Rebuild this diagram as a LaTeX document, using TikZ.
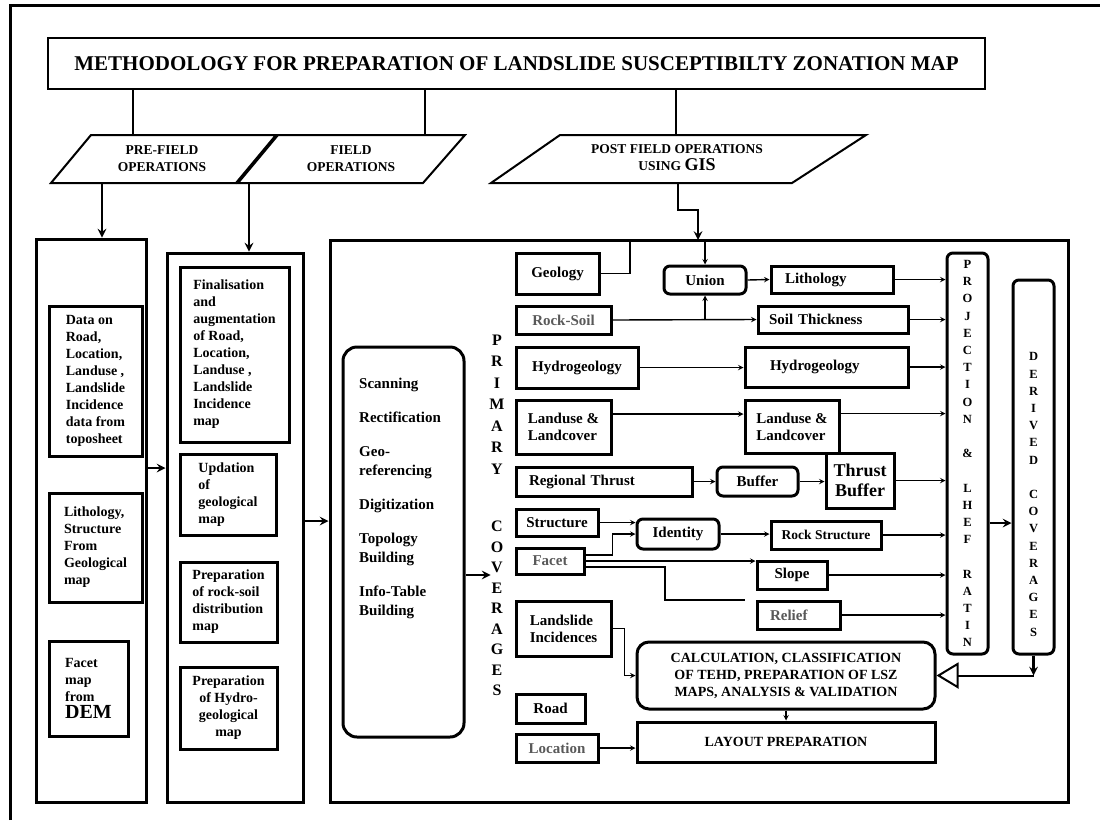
\documentclass[tikz,border=0pt]{standalone}
\usepackage{fontspec}
\setmainfont{Liberation Serif}
\usetikzlibrary{arrows.meta}

\begin{document}
\begin{tikzpicture}[x=1pt, y=-1pt,
    box/.style 2 args={draw, line width=3pt, minimum width=#1, minimum height=#2, inner sep=2pt, anchor=center, font=\bfseries\fontsize{15}{17}\selectfont},
    rbox/.style 2 args={box={#1}{#2}, rounded corners=6pt},
    cbox/.style 2 args={box={#1}{#2}, align=left, font=\bfseries\fontsize{14}{17}\selectfont},
    lbox/.style={align=left, text width=#1},
    ptext/.style={align=center, font=\bfseries\fontsize{13.5}{17}\selectfont},
    vtext/.style={align=center, inner sep=0pt, font=\bfseries\fontsize{12.5}{17.2}\selectfont},
    grey/.style={text=black!65},
    arr/.style={->, >=stealth, line width=1.4pt},
    thickarr/.style={->, >=stealth, line width=2.8pt}]

      \useasboundingbox (0,0) rectangle (1100,820);
      \draw [line width=3pt] (10,820) -- (10,5) -- (1100,5);

      \node[box={937}{51}, line width=2pt, font=\bfseries\fontsize{21}{24}\selectfont] (title) at (516.5,63.5) {METHODOLOGY FOR PREPARATION OF LANDSLIDE SUSCEPTIBILTY ZONATION MAP};

      \draw [line width=2pt] (91,135) -- (276,135) -- (236,183) -- (51,183) -- cycle;
      \draw [line width=2pt] (278,135) -- (465,135) -- (423,183) -- (238,183) -- cycle;
      \draw [line width=2pt] (560,135) -- (866,135) -- (792,183) -- (491,183) -- cycle;
      \node[ptext] (pre) at (162,159) {PRE-FIELD\\OPERATIONS};
      \node[ptext] (field) at (351,159) {FIELD\\OPERATIONS};
      \node[ptext] (post) at (677,158) {POST FIELD OPERATIONS\\USING {\fontsize{18}{18}\selectfont GIS}};

      \coordinate (pretop) at (133,135);
      \coordinate (fieldtop) at (425,135);
      \coordinate (posttop) at (676,135);
      \coordinate (prebot) at (102,183);
      \coordinate (fieldbot) at (249,183);
      \coordinate (postbot) at (678,183);
      \coordinate (gisin) at (698,240);

      \draw [line width=2pt] (title.south -| pretop) -- (pretop);
      \draw [line width=2pt] (title.south -| fieldtop) -- (fieldtop);
      \draw [line width=2pt] (title.south -| posttop) -- (posttop);

      \node[box={110}{563}] (col1) at (91,520.5) {};
      \node[cbox={93}{150}] (data) at (95.5,381) {Data on\\Road,\\Location,\\Landuse ,\\Landslide\\Incidence\\data from\\toposheet};
      \node[cbox={93}{109}] (lith) at (95.5,547.5) {Lithology,\\Structure\\From\\Geological\\map};
      \node[cbox={79}{95}] (facetmap) at (88.5,688.5) {Facet\\map\\from\\{\fontsize{20}{20}\selectfont DEM}};

      \node[box={136}{549}] (col2) at (235,527.5) {};
      \node[cbox={109}{175}] (final) at (234.5,354.5) {Finalisation\\ and\\augmentation\\of Road,\\Location,\\Landuse ,\\Landslide\\Incidence\\map};
      \node[cbox={96}{81}] (update) at (228,494.5) {Updation\\of\\geological\\map};
      \node[cbox={97}{80}] (rsprep) at (228.5,602) {Preparation\\of rock-soil\\distribution\\map};
      \node[cbox={97}{82}, align=center] (hyprep) at (228.5,708) {Preparation\\of Hydro-\\geological\\map};

      \node[box={738}{562}] (gis) at (699,521) {};
      \node[rbox={121}{390}, rounded corners=14pt] (process) at (403.5,542) {};
      \node[align=left, anchor=north west, inner sep=0pt, font=\bfseries\fontsize{15}{19}\selectfont] (steps) at (359,378) {Scanning\\[15pt]Rectification\\[15pt]Geo-\\referencing\\[15pt]Digitization\\[15pt]Topology\\Building\\[15pt]Info-Table\\Building};

      \node[vtext, font=\bfseries\fontsize{16}{21.5}\selectfont] (prim) at (497,404.5) {P\\R\\I\\M\\A\\R\\Y};
      \node[vtext, font=\bfseries\fontsize{16}{20.5}\selectfont] (cov) at (497,608.5) {C\\O\\V\\E\\R\\A\\G\\E\\S};

      \node[box={83}{41}] (geology) at (557.5,273.5) {Geology};
      \node[box={95}{28}, grey] (rocksoil) at (563.5,320) {Rock-Soil};
      \node[box={122}{41}] (hydrol) at (577,367.5) {Hydrogeology};
      \node[box={95}{54}, align=left] (landl) at (563.5,427) {Landuse \&\\Landcover};
      \node[box={176}{29}, lbox=150] (regthrust) at (604,481.5) {Regional Thrust};
      \node[box={82}{27}] (structure) at (557,522.5) {Structure};
      \node[box={68}{26}, grey] (facet) at (550,561) {Facet};
      \node[box={95}{55}, align=left] (landslide) at (563.5,628.5) {Landslide\\Incidences};
      \node[box={69}{29}] (road) at (550.5,708.5) {Road};
      \node[box={82}{28}, grey] (location) at (557,748) {Location};

      \node[rbox={82}{28}] (union) at (705,280) {Union};
      \node[box={122}{27}, lbox=94] (litho) at (832,279.5) {Lithology};
      \node[box={150}{27}, lbox=128] (soilth) at (833,319.5) {Soil Thickness};
      \node[box={163}{40}, lbox=113] (hydror) at (826.5,367) {Hydrogeology};
      \node[box={94}{53}, align=left] (landr) at (792,426.5) {Landuse \&\\Landcover};
      \node[rbox={81}{29}] (buffer) at (757.5,481.5) {Buffer};
      \node[box={68}{55}, align=center, font=\bfseries\fontsize{18}{20}\selectfont] (thrustbuf) at (860,480.5) {Thrust\\Buffer};
      \node[rbox={82}{30}] (identity) at (678,534) {Identity};
      \node[box={110}{28}, font=\bfseries\fontsize{13.5}{16}\selectfont] (rockstr) at (826,535) {Rock Structure};
      \node[box={70}{28}] (slope) at (792,575) {Slope};
      \node[box={83}{28}, grey, lbox=57] (relief) at (798.5,615) {Relief};

      \node[rbox={298}{67}, rounded corners=12pt, align=center, font=\bfseries\fontsize{14}{17}\selectfont] (calc) at (786,675.5) {CALCULATION, CLASSIFICATION\\OF TEHD, PREPARATION OF LSZ\\MAPS, ANALYSIS \& VALIDATION};
      \node[box={298}{40}, font=\bfseries\fontsize{14}{17}\selectfont] (layout) at (786,742) {LAYOUT PREPARATION};

      \node[rbox={41}{401}, vtext] (proj) at (967.5,453.5) {P\\R\\O\\J\\E\\C\\T\\I\\O\\N\\[17.2pt]\&\\[17.2pt]L\\H\\E\\F\\[17.2pt]R\\A\\T\\I\\N};
      \node[rbox={41}{374}] (derived) at (1033.5,467) {};
      \node[vtext] (dertext) at ([yshift=-27.5pt]derived.center) {D\\E\\R\\I\\V\\E\\D\\[17.2pt]C\\O\\V\\E\\R\\A\\G\\E\\S};

      \draw [thickarr] (prebot) -- (prebot |- col1.north);
      \draw [thickarr] (fieldbot) -- (fieldbot |- col2.north);
      \draw [thickarr] (postbot) -- (678,210) -| (gisin);
      \draw [thickarr] (col1.east |- 0,468) -- (col2.west |- 0,468);
      \draw [thickarr] (col2.east |- gis.west) -- (gis.west);
      \draw [thickarr] (process.east |- 0,575) -- (cov.west |- 0,575);

      \draw [arr] (geology.east) -| (630,240) -| (union.north);
      \draw [arr] (rocksoil.east) -- (soilth.west);
      \draw [arr] (union.south |- rocksoil.east) -- (union.south);
      \draw [arr] (union.east) -- (litho.west);
      \draw [arr] (hydrol.east) -- (hydrol.east -| hydror.west);
      \draw [arr] ([yshift=13pt]landl.east) -- ([yshift=13pt]landl.east -| landr.west);
      \draw [arr] (regthrust.east) -- (buffer.west);
      \draw [arr] (buffer.east) -- (buffer.east -| thrustbuf.west);
      \draw [arr] (structure.east) -- (structure.east -| identity.west);
      \draw [arr] ([yshift=6pt]facet.east) -- ++(27,0) |- (identity.west);
      \draw [arr] (identity.east) -- (identity.east -| rockstr.west);
      \draw [arr] (facet.east) -- (facet.east -| slope.west);
      \coordinate (reliefend) at (745,600);
      \draw [line width=1.4pt] ([yshift=-6pt]facet.east) -| ([xshift=-80pt]reliefend) -- (reliefend);
      \draw [arr] (landslide.east) -- ++(12,0) |- (calc.west);
      \draw [arr] (calc.south) -- (layout.north);
      \draw [arr] (location.east) -- (location.east -| layout.west);

      \draw [arr] (litho.east) -- (litho.east -| proj.west);
      \draw [arr] (soilth.east) -- (soilth.east -| proj.west);
      \draw [arr] (hydror.east) -- (hydror.east -| proj.west);
      \draw [arr] ([yshift=13pt]landr.east) -- ([yshift=13pt]landr.east -| proj.west);
      \draw [arr] (thrustbuf.east) -- (thrustbuf.east -| proj.west);
      \draw [arr] (rockstr.east) -- (rockstr.east -| proj.west);
      \draw [arr] (slope.east) -- (slope.east -| proj.west);
      \draw [arr] (relief.east) -- (relief.east -| proj.west);

      \draw [thickarr] (proj.east |- 0,523) -- (derived.west |- 0,523);
      \draw [thickarr] (derived.south) -- (derived.south |- calc.east);
      \draw [line width=2pt, -{Triangle[open, length=22pt, width=26pt]}] (derived.south |- calc.east) -- (calc.east);

    \end{tikzpicture}
\end{document}
